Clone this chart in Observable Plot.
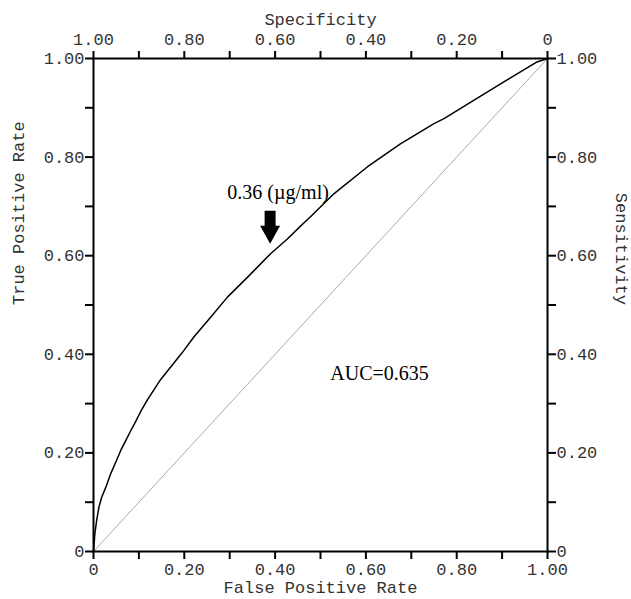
<!DOCTYPE html>
<html><head><meta charset="utf-8">
<script src="https://cdn.jsdelivr.net/npm/d3@7"></script>
<script src="https://cdn.jsdelivr.net/npm/@observablehq/plot@0.6"></script>
<style>body{margin:0;background:#fff}</style>
</head><body><div id="chart"></div>
<script>
// ROC curve points
const fpr = [0, 0.003, 0.007, 0.012, 0.018, 0.027, 0.038, 0.049, 0.060, 0.071, 0.082, 0.093, 0.104, 0.119, 0.133, 0.148,
  0.196, 0.221, 0.258, 0.295, 0.339, 0.390, 0.427,
  0.456, 0.478, 0.530, 0.603, 0.676, 0.750, 0.772, 0.823, 0.885, 0.977, 1];
const tpr = [0, 0.036, 0.063, 0.090, 0.110, 0.130, 0.158, 0.181, 0.205, 0.225, 0.245, 0.264, 0.284, 0.308, 0.328, 0.349,
  0.404, 0.435, 0.475, 0.516, 0.556, 0.604, 0.634,
  0.660, 0.679, 0.726, 0.780, 0.827, 0.868, 0.878, 0.907, 0.942, 0.993, 1];
// chance diagonal
const chanceFpr = [0, 1];
const chanceTpr = [0, 1];
// annotations
const cutoffFpr = [0.389];
const cutoffTpr = [0.604];
const cutoffText = ["0.36 (\u00b5g/ml)"];
const aucFpr = [0.63];
const aucTpr = [0.36];
const aucText = ["AUC=0.635"];
// ticks
const tickValues = [0, 0.1, 0.2, 0.3, 0.4, 0.5, 0.6, 0.7, 0.8, 0.9, 1];
const majorValues = [0, 0.2, 0.4, 0.6, 0.8, 1];
const rateLabels = ["0", "0.20", "0.40", "0.60", "0.80", "1.00"];
const specificityLabels = ["1.00", "0.80", "0.60", "0.40", "0.20", "0"];
const titles = {top: "Specificity", bottom: "False Positive Rate", left: "True Positive Rate", right: "Sensitivity"};

const roc = fpr.map((x, i) => ({fpr: x, tpr: tpr[i]}));
const chance = chanceFpr.map((x, i) => ({fpr: x, tpr: chanceTpr[i]}));
const cutoff = cutoffFpr.map((x, i) => ({fpr: x, tpr: cutoffTpr[i], label: cutoffText[i]}));
const auc = aucFpr.map((x, i) => ({fpr: x, tpr: aucTpr[i], label: aucText[i]}));

const fmt = labels => d => { const i = majorValues.indexOf(d); return i < 0 ? "" : labels[i]; };

const blockArrow = {
  draw(ctx) {
    ctx.moveTo(-5.5, -33); ctx.lineTo(5.5, -33); ctx.lineTo(5.5, -18); ctx.lineTo(10, -18);
    ctx.lineTo(0, 0); ctx.lineTo(-10, -18); ctx.lineTo(-5.5, -18); ctx.closePath();
  }
};

const mono = "'Liberation Mono', 'DejaVu Sans Mono', monospace";
const serif = "'Liberation Serif', 'Times New Roman', serif";
const axisCommon = {ticks: tickValues, tickSize: 8, strokeWidth: 2, label: null, fill: "#333"};

const chart = Plot.plot({
  width: 631,
  height: 599,
  marginLeft: 93,
  marginRight: 84,
  marginTop: 58,
  marginBottom: 48,
  style: {fontFamily: mono, fontSize: "17px", background: "#fff"},
  x: {domain: [0, 1]},
  y: {domain: [0, 1]},
  marks: [
    Plot.line(chance, {x: "fpr", y: "tpr", stroke: "#aaa", strokeWidth: 1}),
    Plot.line(roc, {x: "fpr", y: "tpr", stroke: "#000", strokeWidth: 1.5}),
    Plot.frame({stroke: "#000", strokeWidth: 2}),
    Plot.axisX({...axisCommon, anchor: "bottom", tickFormat: fmt(rateLabels), tickPadding: 3}),
    Plot.axisX({...axisCommon, anchor: "top", tickFormat: fmt(specificityLabels), tickPadding: 6}),
    Plot.axisY({...axisCommon, anchor: "left", tickFormat: fmt(rateLabels), tickPadding: 1}),
    Plot.axisY({...axisCommon, anchor: "right", tickFormat: fmt(rateLabels), tickPadding: 1}),
    Plot.text([titles.top], {frameAnchor: "top", dy: -46, text: d => d, fill: "#333"}),
    Plot.text([titles.bottom], {frameAnchor: "bottom", dy: 41, text: d => d, fill: "#333"}),
    Plot.text([titles.left], {frameAnchor: "left", dx: -75, rotate: -90, text: d => d, fill: "#333"}),
    Plot.text([titles.right], {frameAnchor: "right", dx: 74, rotate: 90, text: d => d, fill: "#333"}),
    Plot.dot(cutoff, {x: "fpr", y: "tpr", symbol: blockArrow, fill: "#000", stroke: null, dy: -10}),
    Plot.text(cutoff, {x: "fpr", y: "tpr", text: "label", dx: 8, dy: -61.5, fontFamily: serif, fontSize: 20, fill: "#000"}),
    Plot.text(auc, {x: "fpr", y: "tpr", text: "label", fontFamily: serif, fontSize: 20, fill: "#000"})
  ]
});
document.getElementById("chart").appendChild(chart);
</script>
</body></html>
